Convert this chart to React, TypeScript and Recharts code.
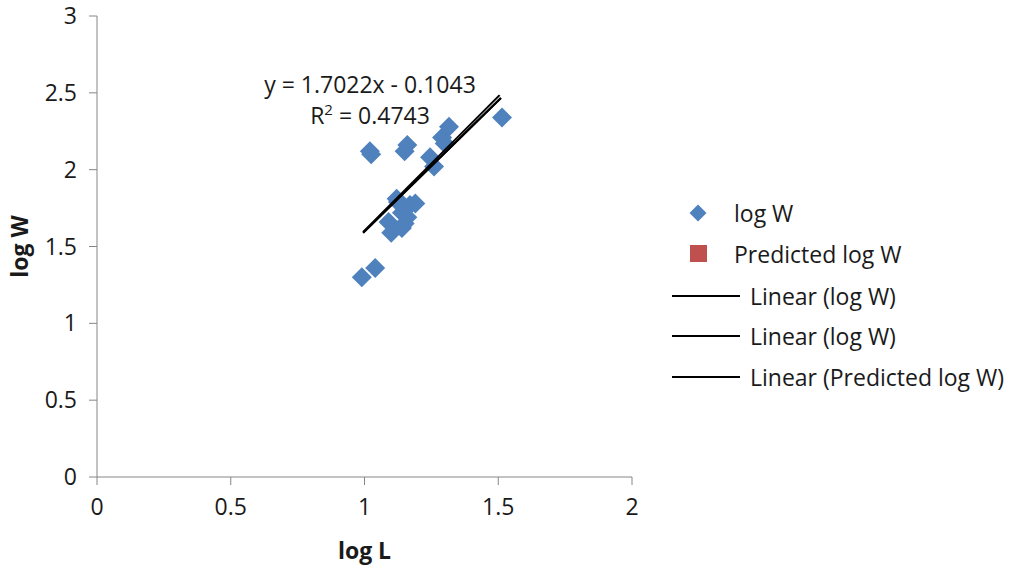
import { ScatterChart, Scatter, XAxis, YAxis, Label } from 'recharts';

const logL = [0.99, 1.04, 1.02, 1.025, 1.15, 1.16, 1.1, 1.09, 1.12, 1.14, 1.14, 1.16, 1.17, 1.19, 1.245, 1.26, 1.29, 1.3, 1.316, 1.514, 1.125, 1.15];
const logW = [1.3, 1.36, 2.12, 2.1, 2.12, 2.16, 1.59, 1.66, 1.81, 1.62, 1.72, 1.69, 1.77, 1.78, 2.08, 2.02, 2.21, 2.17, 2.28, 2.34, 1.79, 1.65];

// trendline endpoints
const fitX = [0.995, 1.51];
const fitLogW = [1.59, 2.466];
const fitPredX = [0.995, 1.505];
const fitPredW = [1.595, 2.485];

const xTicks = [0, 0.5, 1, 1.5, 2];
const yTicks = [0, 0.5, 1, 1.5, 2, 2.5, 3];

const BLUE = '#4F81BD';
const RED = '#C0504D';
const AXIS = '#868686';
const INK = '#1a1a1a';
const FONT = '"Open Sans", sans-serif';
const FS = 23;

const points = logL.map((x, i) => ({ x, y: logW[i] }));
const fitA = fitX.map((x, i) => ({ x, y: fitLogW[i] }));
const fitB = fitPredX.map((x, i) => ({ x, y: fitPredW[i] }));

const Diamond = (p: any) => {
  const { cx, cy } = p;
  const r = 10;
  return <polygon points={`${cx},${cy - r} ${cx + r},${cy} ${cx},${cy + r} ${cx - r},${cy}`} fill={BLUE} />;
};
const NoDot = () => null;

const legendRows = [
  { kind: 'diamond', label: 'log W', top: 213 },
  { kind: 'square', label: 'Predicted log W', top: 254 },
  { kind: 'line', label: 'Linear (log W)', top: 296 },
  { kind: 'line', label: 'Linear (log W)', top: 336 },
  { kind: 'line', label: 'Linear (Predicted log W)', top: 377 },
];

export default function App() {
  return (
    <div style={{ position: 'relative', width: 1014, height: 571, fontFamily: FONT, background: '#fff' }}>
      <style>{'body{margin:0}'}</style>
      <ScatterChart width={1014} height={571} margin={{ top: 16, right: 382, bottom: 0, left: 0 }}>
        <XAxis
          type="number"
          dataKey="x"
          domain={[0, 2]}
          ticks={xTicks}
          stroke={AXIS}
          tickSize={8}
          tickMargin={14}
          height={94}
          tick={{ fill: INK, fontSize: FS, fontFamily: FONT }}
        >
          <Label value="log L" position="insideBottom" offset={12} style={{ fontWeight: 'bold', fontSize: FS, fill: INK, fontFamily: FONT }} />
        </XAxis>
        <YAxis
          type="number"
          dataKey="y"
          domain={[0, 3]}
          ticks={yTicks}
          stroke={AXIS}
          tickSize={8}
          tickMargin={12}
          width={97}
          tick={{ fill: INK, fontSize: FS, fontFamily: FONT }}
        >
          <Label value="log W" angle={-90} position="insideLeft" offset={20} style={{ fontWeight: 'bold', fontSize: FS, fill: INK, fontFamily: FONT, textAnchor: 'middle' }} />
        </YAxis>
        <Scatter data={points} shape={Diamond} isAnimationActive={false} />
        <Scatter data={fitA} line={{ stroke: '#000', strokeWidth: 2 }} shape={NoDot} isAnimationActive={false} />
        <Scatter data={fitA} line={{ stroke: '#000', strokeWidth: 2 }} shape={NoDot} isAnimationActive={false} />
        <Scatter data={fitB} line={{ stroke: '#000', strokeWidth: 2 }} shape={NoDot} isAnimationActive={false} />
      </ScatterChart>

      {/* trendline equation */}
      <div style={{ position: 'absolute', left: 220, width: 300, top: 69, textAlign: 'center', fontSize: FS, lineHeight: '31px', color: INK }}>
        <div>y = 1.7022x - 0.1043</div>
        <div>R<sup style={{ fontSize: 15, verticalAlign: 9, lineHeight: 0 }}>2</sup> = 0.4743</div>
      </div>

      {/* legend */}
      {legendRows.map((r, i) => (
        <div key={i} style={{ position: 'absolute', left: 0, top: r.top - 16, height: 32, width: 1014 }}>
          {r.kind === 'diamond' && (
            <div style={{ position: 'absolute', left: 692, top: 10, width: 12, height: 12, background: BLUE, transform: 'rotate(45deg)' }} />
          )}
          {r.kind === 'square' && (
            <div style={{ position: 'absolute', left: 690, top: 7, width: 17, height: 17, background: RED }} />
          )}
          {r.kind === 'line' && (
            <div style={{ position: 'absolute', left: 672, top: 15, width: 68, height: 2, background: '#000' }} />
          )}
          <div style={{ position: 'absolute', left: r.kind === 'line' ? 750 : 734, top: 0, lineHeight: '32px', fontSize: FS, color: INK, whiteSpace: 'nowrap' }}>
            {r.label}
          </div>
        </div>
      ))}
    </div>
  );
}
